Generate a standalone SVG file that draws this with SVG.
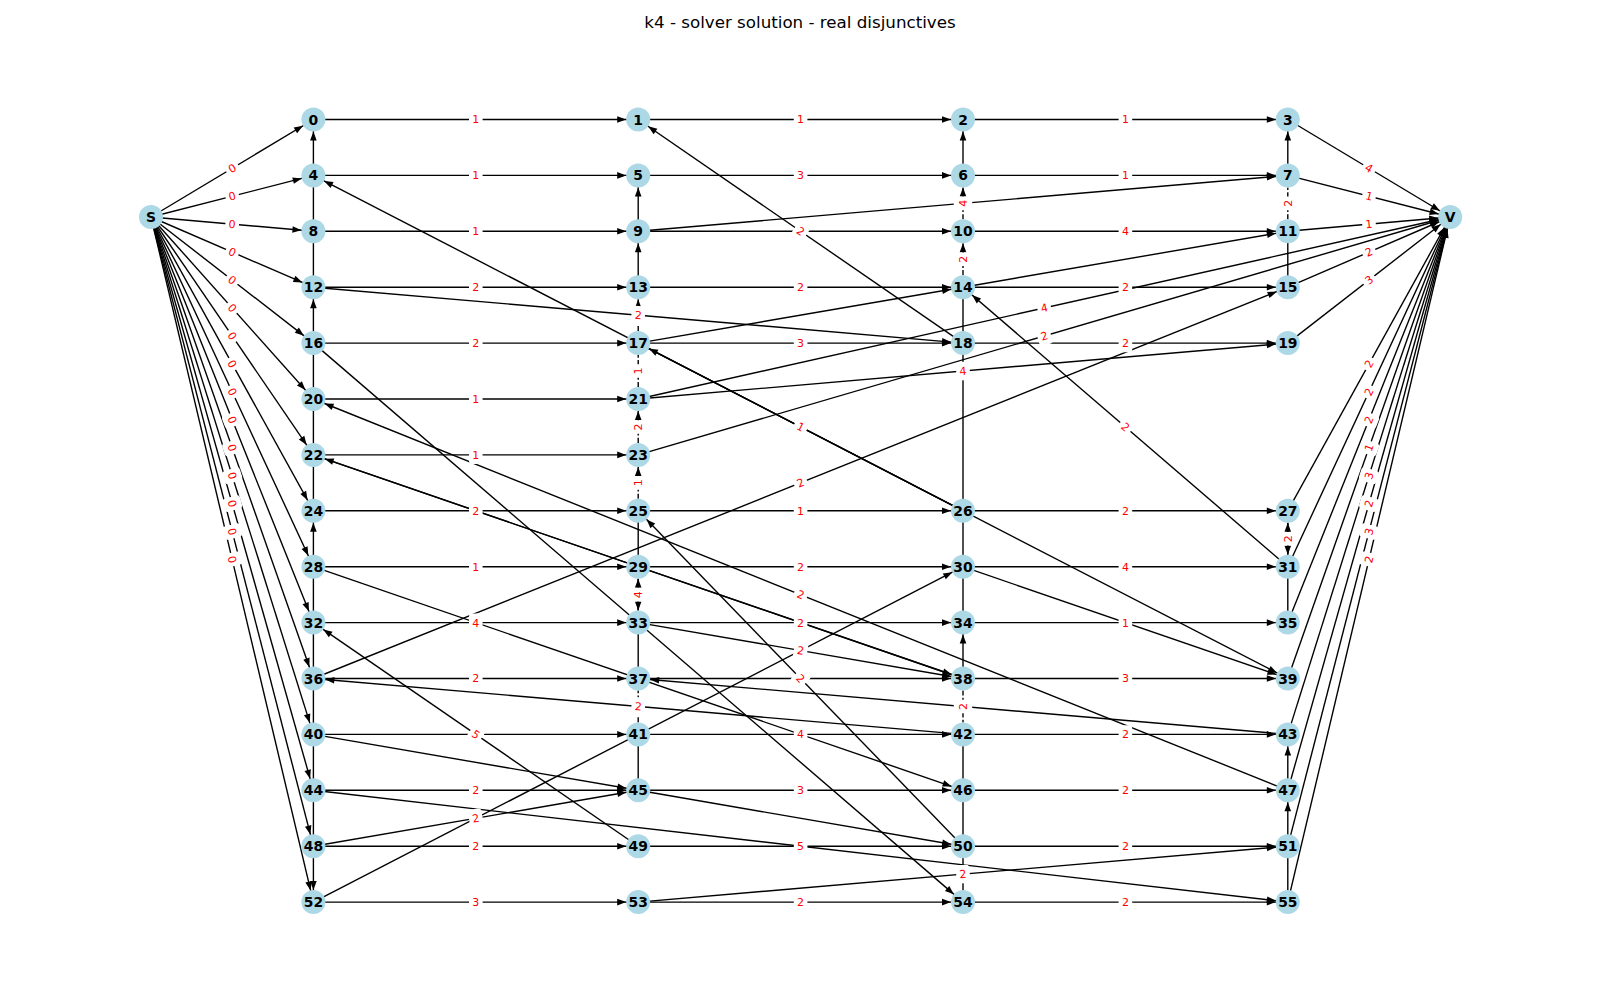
<svg xmlns="http://www.w3.org/2000/svg" xmlns:xlink="http://www.w3.org/1999/xlink" width="1600" height="1000" viewBox="0 0 1600 1000">
<style>
.e{stroke:#000;stroke-width:1.39;fill:none}
.ea{stroke:#000;stroke-width:1.39;fill:none;marker-end:url(#a)}
.d{stroke:#000;stroke-width:1.39;fill:none;stroke-dasharray:5.1 2.2}
.dt{stroke:#000;stroke-width:1.39;fill:none;stroke-dasharray:5.1 2.2;marker-end:url(#t)}
.l text{font-family:"DejaVu Sans","Liberation Sans",sans-serif;font-size:11px;fill:#ff0000;text-anchor:middle}
.nc{fill:#add8e6}
.nt{font-family:"DejaVu Sans","Liberation Sans",sans-serif;font-size:13.9px;font-weight:bold;fill:#000;text-anchor:middle}
.title{font-family:"DejaVu Sans","Liberation Sans",sans-serif;font-size:16.7px;fill:#000;text-anchor:middle}
</style>
<defs>
<marker id="a" viewBox="-12 -5 26 10" refX="12" refY="0" markerWidth="26" markerHeight="10" markerUnits="userSpaceOnUse" orient="auto" overflow="visible"><path d="M0,0 L-9,-3.3 L-9,3.3 Z" fill="#000"/></marker>
<marker id="t" viewBox="-12 -5 26 10" refX="0" refY="0" markerWidth="26" markerHeight="10" markerUnits="userSpaceOnUse" orient="auto" overflow="visible"><path d="M0,0 L-9,-3.3 L-9,3.3 Z" fill="#000"/></marker>
<rect id="b" x="-6.8" y="-9.2" width="13.6" height="18.4" rx="3.3" fill="#fff"/>
</defs>
<rect width="1600" height="1000" fill="#fff"/>
<text class="title" x="800" y="28">k4 - solver solution - real disjunctives</text>

<g id="edges">
<!-- S edges -->
<line class="ea" x1="151" y1="217" x2="313.4" y2="119.5"/>
<line class="ea" x1="151" y1="217" x2="313.4" y2="175.4"/>
<line class="ea" x1="151" y1="217" x2="313.4" y2="231.3"/>
<line class="ea" x1="151" y1="217" x2="313.4" y2="287.2"/>
<line class="ea" x1="151" y1="217" x2="313.4" y2="343.1"/>
<line class="ea" x1="151" y1="217" x2="313.4" y2="399"/>
<line class="ea" x1="151" y1="217" x2="313.4" y2="454.9"/>
<line class="ea" x1="151" y1="217" x2="313.4" y2="510.8"/>
<line class="ea" x1="151" y1="217" x2="313.4" y2="566.7"/>
<line class="ea" x1="151" y1="217" x2="313.4" y2="622.6"/>
<line class="ea" x1="151" y1="217" x2="313.4" y2="678.5"/>
<line class="ea" x1="151" y1="217" x2="313.4" y2="734.4"/>
<line class="ea" x1="151" y1="217" x2="313.4" y2="790.3"/>
<line class="ea" x1="151" y1="217" x2="313.4" y2="846.2"/>
<line class="ea" x1="151" y1="217" x2="313.4" y2="902.1"/>
<!-- V edges -->
<line class="ea" x1="1287.8" y1="119.5" x2="1450.2" y2="217"/>
<line class="ea" x1="1287.8" y1="175.4" x2="1450.2" y2="217"/>
<line class="ea" x1="1287.8" y1="231.3" x2="1450.2" y2="217"/>
<line class="ea" x1="1287.8" y1="287.2" x2="1450.2" y2="217"/>
<line class="ea" x1="1287.8" y1="343.1" x2="1450.2" y2="217"/>
<line class="ea" x1="638.2" y1="399" x2="1450.2" y2="217"/>
<line class="ea" x1="638.2" y1="454.9" x2="1450.2" y2="217"/>
<line class="ea" x1="1287.8" y1="510.8" x2="1450.2" y2="217"/>
<line class="ea" x1="1287.8" y1="566.7" x2="1450.2" y2="217"/>
<line class="ea" x1="1287.8" y1="622.6" x2="1450.2" y2="217"/>
<line class="ea" x1="1287.8" y1="678.5" x2="1450.2" y2="217"/>
<line class="ea" x1="1287.8" y1="734.4" x2="1450.2" y2="217"/>
<line class="ea" x1="1287.8" y1="790.3" x2="1450.2" y2="217"/>
<line class="ea" x1="1287.8" y1="846.2" x2="1450.2" y2="217"/>
<line class="ea" x1="1287.8" y1="902.1" x2="1450.2" y2="217"/>
<!-- horizontal -->
<line class="ea" x1="313.4" y1="119.5" x2="638.2" y2="119.5"/>
<line class="ea" x1="638.2" y1="119.5" x2="963" y2="119.5"/>
<line class="ea" x1="963" y1="119.5" x2="1287.8" y2="119.5"/>
<line class="ea" x1="313.4" y1="175.4" x2="638.2" y2="175.4"/>
<line class="ea" x1="638.2" y1="175.4" x2="963" y2="175.4"/>
<line class="ea" x1="963" y1="175.4" x2="1287.8" y2="175.4"/>
<line class="ea" x1="313.4" y1="231.3" x2="638.2" y2="231.3"/>
<line class="ea" x1="638.2" y1="231.3" x2="963" y2="231.3"/>
<line class="ea" x1="963" y1="231.3" x2="1287.8" y2="231.3"/>
<line class="ea" x1="313.4" y1="287.2" x2="638.2" y2="287.2"/>
<line class="ea" x1="638.2" y1="287.2" x2="963" y2="287.2"/>
<line class="ea" x1="963" y1="287.2" x2="1287.8" y2="287.2"/>
<line class="ea" x1="313.4" y1="343.1" x2="638.2" y2="343.1"/>
<line class="ea" x1="638.2" y1="343.1" x2="963" y2="343.1"/>
<line class="ea" x1="963" y1="343.1" x2="1287.8" y2="343.1"/>
<line class="ea" x1="313.4" y1="399" x2="638.2" y2="399"/>
<line class="ea" x1="313.4" y1="454.9" x2="638.2" y2="454.9"/>
<line class="ea" x1="313.4" y1="510.8" x2="638.2" y2="510.8"/>
<line class="ea" x1="638.2" y1="510.8" x2="963" y2="510.8"/>
<line class="ea" x1="963" y1="510.8" x2="1287.8" y2="510.8"/>
<line class="ea" x1="313.4" y1="566.7" x2="638.2" y2="566.7"/>
<line class="ea" x1="638.2" y1="566.7" x2="963" y2="566.7"/>
<line class="ea" x1="963" y1="566.7" x2="1287.8" y2="566.7"/>
<line class="ea" x1="313.4" y1="622.6" x2="638.2" y2="622.6"/>
<line class="ea" x1="638.2" y1="622.6" x2="963" y2="622.6"/>
<line class="ea" x1="963" y1="622.6" x2="1287.8" y2="622.6"/>
<line class="ea" x1="313.4" y1="678.5" x2="638.2" y2="678.5"/>
<line class="ea" x1="638.2" y1="678.5" x2="963" y2="678.5"/>
<line class="ea" x1="963" y1="678.5" x2="1287.8" y2="678.5"/>
<line class="ea" x1="313.4" y1="734.4" x2="638.2" y2="734.4"/>
<line class="ea" x1="638.2" y1="734.4" x2="963" y2="734.4"/>
<line class="ea" x1="963" y1="734.4" x2="1287.8" y2="734.4"/>
<line class="ea" x1="313.4" y1="790.3" x2="638.2" y2="790.3"/>
<line class="ea" x1="638.2" y1="790.3" x2="963" y2="790.3"/>
<line class="ea" x1="963" y1="790.3" x2="1287.8" y2="790.3"/>
<line class="ea" x1="313.4" y1="846.2" x2="638.2" y2="846.2"/>
<line class="ea" x1="638.2" y1="846.2" x2="963" y2="846.2"/>
<line class="ea" x1="963" y1="846.2" x2="1287.8" y2="846.2"/>
<line class="ea" x1="313.4" y1="902.1" x2="638.2" y2="902.1"/>
<line class="ea" x1="638.2" y1="902.1" x2="963" y2="902.1"/>
<line class="ea" x1="963" y1="902.1" x2="1287.8" y2="902.1"/>
<!-- diagonal -->
<line class="ea" x1="638.2" y1="231.3" x2="1287.8" y2="175.4"/>
<line class="ea" x1="313.4" y1="287.2" x2="963" y2="343.1"/>
<line class="ea" x1="638.2" y1="343.1" x2="963" y2="287.2"/>
<line class="ea" x1="963" y1="287.2" x2="1287.8" y2="231.3"/>
<line class="ea" x1="963" y1="343.1" x2="638.2" y2="119.5"/>
<line class="ea" x1="963" y1="510.8" x2="313.4" y2="175.4"/>
<line class="ea" x1="963" y1="510.8" x2="638.2" y2="343.1"/>
<line class="ea" x1="638.2" y1="343.1" x2="1287.8" y2="678.5"/>
<line class="ea" x1="638.2" y1="399" x2="1287.8" y2="343.1"/>
<line class="ea" x1="313.4" y1="678.5" x2="1287.8" y2="287.2"/>
<line class="ea" x1="1287.8" y1="566.7" x2="963" y2="287.2"/>
<line class="ea" x1="1287.8" y1="790.3" x2="313.4" y2="399"/>
<line class="ea" x1="963" y1="678.5" x2="313.4" y2="454.9"/>
<line class="ea" x1="313.4" y1="454.9" x2="963" y2="678.5"/>
<line class="ea" x1="313.4" y1="566.7" x2="963" y2="790.3"/>
<line class="ea" x1="313.4" y1="343.1" x2="963" y2="902.1"/>
<line class="ea" x1="638.2" y1="846.2" x2="313.4" y2="622.6"/>
<line class="ea" x1="963" y1="734.4" x2="313.4" y2="678.5"/>
<line class="ea" x1="313.4" y1="734.4" x2="638.2" y2="790.3"/>
<line class="ea" x1="638.2" y1="790.3" x2="963" y2="846.2"/>
<line class="ea" x1="313.4" y1="846.2" x2="638.2" y2="790.3"/>
<line class="ea" x1="313.4" y1="902.1" x2="963" y2="566.7"/>
<line class="ea" x1="313.4" y1="790.3" x2="1287.8" y2="902.1"/>
<line class="ea" x1="638.2" y1="622.6" x2="963" y2="678.5"/>
<line class="ea" x1="963" y1="846.2" x2="638.2" y2="510.8"/>
<line class="ea" x1="1287.8" y1="734.4" x2="638.2" y2="678.5"/>
<line class="ea" x1="963" y1="566.7" x2="1287.8" y2="678.5"/>
<line class="ea" x1="638.2" y1="902.1" x2="1287.8" y2="846.2"/>
<!-- vertical solid with arrow -->
<line class="ea" x1="313.4" y1="175.4" x2="313.4" y2="119.5"/>
<line class="ea" x1="313.4" y1="343.1" x2="313.4" y2="287.2"/>
<line class="ea" x1="313.4" y1="566.7" x2="313.4" y2="510.8"/>
<line class="ea" x1="313.4" y1="846.2" x2="313.4" y2="902.1"/>
<line class="ea" x1="638.2" y1="231.3" x2="638.2" y2="175.4"/>
<line class="ea" x1="638.2" y1="287.2" x2="638.2" y2="231.3"/>
<line class="ea" x1="963" y1="175.4" x2="963" y2="119.5"/>
<line class="ea" x1="963" y1="678.5" x2="963" y2="622.6"/>
<line class="ea" x1="1287.8" y1="175.4" x2="1287.8" y2="119.5"/>
<line class="ea" x1="1287.8" y1="790.3" x2="1287.8" y2="734.4"/>
<line class="ea" x1="1287.8" y1="846.2" x2="1287.8" y2="790.3"/>
<!-- vertical solid plain -->
<line class="e" x1="313.4" y1="175.4" x2="313.4" y2="287.2"/>
<line class="e" x1="313.4" y1="343.1" x2="313.4" y2="510.8"/>
<line class="e" x1="313.4" y1="566.7" x2="313.4" y2="846.2"/>
<line class="e" x1="638.2" y1="510.8" x2="638.2" y2="566.7"/>
<line class="e" x1="638.2" y1="622.6" x2="638.2" y2="678.5"/>
<line class="e" x1="638.2" y1="734.4" x2="638.2" y2="790.3"/>
<line class="e" x1="963" y1="287.2" x2="963" y2="622.6"/>
<line class="e" x1="963" y1="734.4" x2="963" y2="902.1"/>
<line class="e" x1="1287.8" y1="231.3" x2="1287.8" y2="287.2"/>
<line class="e" x1="1287.8" y1="566.7" x2="1287.8" y2="622.6"/>
<line class="e" x1="1287.8" y1="846.2" x2="1287.8" y2="902.1"/>
<!-- vertical dashed -->
<line class="dt" x1="638.2" y1="331.1" x2="638.2" y2="299.2"/>
<line class="d" x1="638.2" y1="387" x2="638.2" y2="355.1"/>
<line class="dt" x1="638.2" y1="442.9" x2="638.2" y2="411"/>
<line class="dt" x1="638.2" y1="498.8" x2="638.2" y2="466.9"/>
<line class="dt" x1="638.2" y1="610.6" x2="638.2" y2="578.7"/>
<line class="dt" x1="638.2" y1="578.7" x2="638.2" y2="610.6"/>
<line class="d" x1="638.2" y1="722.4" x2="638.2" y2="690.5"/>
<line class="dt" x1="963" y1="219.3" x2="963" y2="187.4"/>
<line class="dt" x1="963" y1="275.2" x2="963" y2="243.3"/>
<line class="d" x1="963" y1="690.5" x2="963" y2="722.4"/>
<line class="d" x1="1287.8" y1="219.3" x2="1287.8" y2="187.4"/>
<line class="dt" x1="1287.8" y1="554.7" x2="1287.8" y2="522.8"/>
<line class="dt" x1="1287.8" y1="522.8" x2="1287.8" y2="554.7"/>
</g>

<g id="edge-labels">
<g class="l" transform="translate(232.2,168.25) rotate(-31)"><use xlink:href="#b"/><text y="3.9">0</text></g>
<g class="l" transform="translate(232.2,196.2) rotate(-14.4)"><use xlink:href="#b"/><text y="3.9">0</text></g>
<g class="l" transform="translate(232.2,224.15) rotate(5)"><use xlink:href="#b"/><text y="3.9">0</text></g>
<g class="l" transform="translate(232.2,252.1) rotate(23.4)"><use xlink:href="#b"/><text y="3.9">0</text></g>
<g class="l" transform="translate(232.2,280.05) rotate(37.8)"><use xlink:href="#b"/><text y="3.9">0</text></g>
<g class="l" transform="translate(232.2,308) rotate(48.3)"><use xlink:href="#b"/><text y="3.9">0</text></g>
<g class="l" transform="translate(232.2,335.95) rotate(55.7)"><use xlink:href="#b"/><text y="3.9">0</text></g>
<g class="l" transform="translate(232.2,363.9) rotate(61.1)"><use xlink:href="#b"/><text y="3.9">0</text></g>
<g class="l" transform="translate(232.2,391.85) rotate(65.1)"><use xlink:href="#b"/><text y="3.9">0</text></g>
<g class="l" transform="translate(232.2,419.8) rotate(68.2)"><use xlink:href="#b"/><text y="3.9">0</text></g>
<g class="l" transform="translate(232.2,447.75) rotate(70.6)"><use xlink:href="#b"/><text y="3.9">0</text></g>
<g class="l" transform="translate(232.2,475.7) rotate(72.6)"><use xlink:href="#b"/><text y="3.9">0</text></g>
<g class="l" transform="translate(232.2,503.65) rotate(74.2)"><use xlink:href="#b"/><text y="3.9">0</text></g>
<g class="l" transform="translate(232.2,531.6) rotate(75.5)"><use xlink:href="#b"/><text y="3.9">0</text></g>
<g class="l" transform="translate(232.2,559.55) rotate(76.7)"><use xlink:href="#b"/><text y="3.9">0</text></g>

<g class="l" transform="translate(1369,168.25) rotate(31)"><use xlink:href="#b"/><text y="3.9">4</text></g>
<g class="l" transform="translate(1369,196.2) rotate(14.4)"><use xlink:href="#b"/><text y="3.9">1</text></g>
<g class="l" transform="translate(1369,224.15) rotate(-5)"><use xlink:href="#b"/><text y="3.9">1</text></g>
<g class="l" transform="translate(1369,252.1) rotate(-23.4)"><use xlink:href="#b"/><text y="3.9">2</text></g>
<g class="l" transform="translate(1369,280.05) rotate(-37.8)"><use xlink:href="#b"/><text y="3.9">3</text></g>
<g class="l" transform="translate(1369,363.9) rotate(-61.1)"><use xlink:href="#b"/><text y="3.9">2</text></g>
<g class="l" transform="translate(1369,391.85) rotate(-65.1)"><use xlink:href="#b"/><text y="3.9">2</text></g>
<g class="l" transform="translate(1369,419.8) rotate(-68.2)"><use xlink:href="#b"/><text y="3.9">2</text></g>
<g class="l" transform="translate(1369,447.75) rotate(-70.6)"><use xlink:href="#b"/><text y="3.9">1</text></g>
<g class="l" transform="translate(1369,475.7) rotate(-72.6)"><use xlink:href="#b"/><text y="3.9">3</text></g>
<g class="l" transform="translate(1369,503.65) rotate(-74.2)"><use xlink:href="#b"/><text y="3.9">2</text></g>
<g class="l" transform="translate(1369,531.6) rotate(-75.5)"><use xlink:href="#b"/><text y="3.9">3</text></g>
<g class="l" transform="translate(1369,559.55) rotate(-76.7)"><use xlink:href="#b"/><text y="3.9">2</text></g>
<g class="l" transform="translate(1044.2,308) rotate(-12.6)"><use xlink:href="#b"/><text y="3.9">4</text></g>
<g class="l" transform="translate(1044.2,335.95) rotate(-16.3)"><use xlink:href="#b"/><text y="3.9">2</text></g>

<!-- horizontal labels -->
<g class="l" transform="translate(475.8,119.5)"><use xlink:href="#b"/><text y="3.9">1</text></g>
<g class="l" transform="translate(800.6,119.5)"><use xlink:href="#b"/><text y="3.9">1</text></g>
<g class="l" transform="translate(1125.4,119.5)"><use xlink:href="#b"/><text y="3.9">1</text></g>
<g class="l" transform="translate(475.8,175.4)"><use xlink:href="#b"/><text y="3.9">1</text></g>
<g class="l" transform="translate(800.6,175.4)"><use xlink:href="#b"/><text y="3.9">3</text></g>
<g class="l" transform="translate(1125.4,175.4)"><use xlink:href="#b"/><text y="3.9">1</text></g>
<g class="l" transform="translate(475.8,231.3)"><use xlink:href="#b"/><text y="3.9">1</text></g>
<g class="l" transform="translate(1125.4,231.3)"><use xlink:href="#b"/><text y="3.9">4</text></g>
<g class="l" transform="translate(475.8,287.2)"><use xlink:href="#b"/><text y="3.9">2</text></g>
<g class="l" transform="translate(800.6,287.2)"><use xlink:href="#b"/><text y="3.9">2</text></g>
<g class="l" transform="translate(1125.4,287.2)"><use xlink:href="#b"/><text y="3.9">2</text></g>
<g class="l" transform="translate(475.8,343.1)"><use xlink:href="#b"/><text y="3.9">2</text></g>
<g class="l" transform="translate(800.6,343.1)"><use xlink:href="#b"/><text y="3.9">3</text></g>
<g class="l" transform="translate(1125.4,343.1)"><use xlink:href="#b"/><text y="3.9">2</text></g>
<g class="l" transform="translate(475.8,399)"><use xlink:href="#b"/><text y="3.9">1</text></g>
<g class="l" transform="translate(475.8,454.9)"><use xlink:href="#b"/><text y="3.9">1</text></g>
<g class="l" transform="translate(475.8,510.8)"><use xlink:href="#b"/><text y="3.9">2</text></g>
<g class="l" transform="translate(800.6,510.8)"><use xlink:href="#b"/><text y="3.9">1</text></g>
<g class="l" transform="translate(1125.4,510.8)"><use xlink:href="#b"/><text y="3.9">2</text></g>
<g class="l" transform="translate(475.8,566.7)"><use xlink:href="#b"/><text y="3.9">1</text></g>
<g class="l" transform="translate(800.6,566.7)"><use xlink:href="#b"/><text y="3.9">2</text></g>
<g class="l" transform="translate(1125.4,566.7)"><use xlink:href="#b"/><text y="3.9">4</text></g>
<g class="l" transform="translate(475.8,622.6)"><use xlink:href="#b"/><text y="3.9">4</text></g>
<g class="l" transform="translate(800.6,622.6)"><use xlink:href="#b"/><text y="3.9">2</text></g>
<g class="l" transform="translate(1125.4,622.6)"><use xlink:href="#b"/><text y="3.9">1</text></g>
<g class="l" transform="translate(475.8,678.5)"><use xlink:href="#b"/><text y="3.9">2</text></g>
<g class="l" transform="translate(1125.4,678.5)"><use xlink:href="#b"/><text y="3.9">3</text></g>
<g class="l" transform="translate(800.6,734.4)"><use xlink:href="#b"/><text y="3.9">4</text></g>
<g class="l" transform="translate(1125.4,734.4)"><use xlink:href="#b"/><text y="3.9">2</text></g>
<g class="l" transform="translate(475.8,790.3)"><use xlink:href="#b"/><text y="3.9">2</text></g>
<g class="l" transform="translate(800.6,790.3)"><use xlink:href="#b"/><text y="3.9">3</text></g>
<g class="l" transform="translate(1125.4,790.3)"><use xlink:href="#b"/><text y="3.9">2</text></g>
<g class="l" transform="translate(475.8,846.2)"><use xlink:href="#b"/><text y="3.9">2</text></g>
<g class="l" transform="translate(800.6,846.2)"><use xlink:href="#b"/><text y="3.9">5</text></g>
<g class="l" transform="translate(1125.4,846.2)"><use xlink:href="#b"/><text y="3.9">2</text></g>
<g class="l" transform="translate(475.8,902.1)"><use xlink:href="#b"/><text y="3.9">3</text></g>
<g class="l" transform="translate(800.6,902.1)"><use xlink:href="#b"/><text y="3.9">2</text></g>
<g class="l" transform="translate(1125.4,902.1)"><use xlink:href="#b"/><text y="3.9">2</text></g>

<!-- diagonal labels -->
<g class="l" transform="translate(800.6,231.3) rotate(34.5)"><use xlink:href="#b"/><text y="3.9">2</text></g>
<g class="l" transform="translate(638.2,315.15) rotate(4.9)"><use xlink:href="#b"/><text y="3.9">2</text></g>
<g class="l" transform="translate(800.6,426.95) rotate(27.3)"><use xlink:href="#b"/><text y="3.9">1</text></g>
<g class="l" transform="translate(963,371.05) rotate(-4.9)"><use xlink:href="#b"/><text y="3.9">4</text></g>
<g class="l" transform="translate(800.6,482.85) rotate(-21.9)"><use xlink:href="#b"/><text y="3.9">2</text></g>
<g class="l" transform="translate(1125.4,426.95) rotate(40.7)"><use xlink:href="#b"/><text y="3.9">2</text></g>
<g class="l" transform="translate(800.6,594.65) rotate(21.9)"><use xlink:href="#b"/><text y="3.9">2</text></g>
<g class="l" transform="translate(475.8,734.4) rotate(34.5)"><use xlink:href="#b"/><text y="3.9">5</text></g>
<g class="l" transform="translate(638.2,706.45) rotate(4.9)"><use xlink:href="#b"/><text y="3.9">2</text></g>
<g class="l" transform="translate(475.8,818.25) rotate(-9.8)"><use xlink:href="#b"/><text y="3.9">2</text></g>
<g class="l" transform="translate(800.6,650.55) rotate(9.8)"><use xlink:href="#b"/><text y="3.9">2</text></g>
<g class="l" transform="translate(800.6,678.5) rotate(45.9)"><use xlink:href="#b"/><text y="3.9">2</text></g>
<g class="l" transform="translate(963,874.15) rotate(-4.9)"><use xlink:href="#b"/><text y="3.9">2</text></g>

<!-- vertical labels -->
<g class="l" transform="translate(638.2,371.05) rotate(-90)"><use xlink:href="#b"/><text y="3.9">1</text></g>
<g class="l" transform="translate(638.2,426.95) rotate(-90)"><use xlink:href="#b"/><text y="3.9">2</text></g>
<g class="l" transform="translate(638.2,482.85) rotate(-90)"><use xlink:href="#b"/><text y="3.9">1</text></g>
<g class="l" transform="translate(638.2,594.65) rotate(-90)"><use xlink:href="#b"/><text y="3.9">4</text></g>
<g class="l" transform="translate(963,203.35) rotate(-90)"><use xlink:href="#b"/><text y="3.9">4</text></g>
<g class="l" transform="translate(963,259.25) rotate(-90)"><use xlink:href="#b"/><text y="3.9">2</text></g>
<g class="l" transform="translate(963,706.45) rotate(-90)"><use xlink:href="#b"/><text y="3.9">2</text></g>
<g class="l" transform="translate(1287.8,203.35) rotate(-90)"><use xlink:href="#b"/><text y="3.9">2</text></g>
<g class="l" transform="translate(1287.8,538.75) rotate(-90)"><use xlink:href="#b"/><text y="3.9">2</text></g>
</g>

<g id="nodes">
<g id="node-S"><circle class="nc" cx="151" cy="217" r="12"/><text class="nt" x="151" y="222">S</text></g>
<g id="node-V"><circle class="nc" cx="1450.2" cy="217" r="12"/><text class="nt" x="1450.2" y="222">V</text></g>
<g id="node-0"><circle class="nc" cx="313.4" cy="119.5" r="12"/><text class="nt" x="313.4" y="124.5">0</text></g>
<g id="node-4"><circle class="nc" cx="313.4" cy="175.4" r="12"/><text class="nt" x="313.4" y="180.4">4</text></g>
<g id="node-8"><circle class="nc" cx="313.4" cy="231.3" r="12"/><text class="nt" x="313.4" y="236.3">8</text></g>
<g id="node-12"><circle class="nc" cx="313.4" cy="287.2" r="12"/><text class="nt" x="313.4" y="292.2">12</text></g>
<g id="node-16"><circle class="nc" cx="313.4" cy="343.1" r="12"/><text class="nt" x="313.4" y="348.1">16</text></g>
<g id="node-20"><circle class="nc" cx="313.4" cy="399" r="12"/><text class="nt" x="313.4" y="404">20</text></g>
<g id="node-22"><circle class="nc" cx="313.4" cy="454.9" r="12"/><text class="nt" x="313.4" y="459.9">22</text></g>
<g id="node-24"><circle class="nc" cx="313.4" cy="510.8" r="12"/><text class="nt" x="313.4" y="515.8">24</text></g>
<g id="node-28"><circle class="nc" cx="313.4" cy="566.7" r="12"/><text class="nt" x="313.4" y="571.7">28</text></g>
<g id="node-32"><circle class="nc" cx="313.4" cy="622.6" r="12"/><text class="nt" x="313.4" y="627.6">32</text></g>
<g id="node-36"><circle class="nc" cx="313.4" cy="678.5" r="12"/><text class="nt" x="313.4" y="683.5">36</text></g>
<g id="node-40"><circle class="nc" cx="313.4" cy="734.4" r="12"/><text class="nt" x="313.4" y="739.4">40</text></g>
<g id="node-44"><circle class="nc" cx="313.4" cy="790.3" r="12"/><text class="nt" x="313.4" y="795.3">44</text></g>
<g id="node-48"><circle class="nc" cx="313.4" cy="846.2" r="12"/><text class="nt" x="313.4" y="851.2">48</text></g>
<g id="node-52"><circle class="nc" cx="313.4" cy="902.1" r="12"/><text class="nt" x="313.4" y="907.1">52</text></g>
<g id="node-1"><circle class="nc" cx="638.2" cy="119.5" r="12"/><text class="nt" x="638.2" y="124.5">1</text></g>
<g id="node-5"><circle class="nc" cx="638.2" cy="175.4" r="12"/><text class="nt" x="638.2" y="180.4">5</text></g>
<g id="node-9"><circle class="nc" cx="638.2" cy="231.3" r="12"/><text class="nt" x="638.2" y="236.3">9</text></g>
<g id="node-13"><circle class="nc" cx="638.2" cy="287.2" r="12"/><text class="nt" x="638.2" y="292.2">13</text></g>
<g id="node-17"><circle class="nc" cx="638.2" cy="343.1" r="12"/><text class="nt" x="638.2" y="348.1">17</text></g>
<g id="node-21"><circle class="nc" cx="638.2" cy="399" r="12"/><text class="nt" x="638.2" y="404">21</text></g>
<g id="node-23"><circle class="nc" cx="638.2" cy="454.9" r="12"/><text class="nt" x="638.2" y="459.9">23</text></g>
<g id="node-25"><circle class="nc" cx="638.2" cy="510.8" r="12"/><text class="nt" x="638.2" y="515.8">25</text></g>
<g id="node-29"><circle class="nc" cx="638.2" cy="566.7" r="12"/><text class="nt" x="638.2" y="571.7">29</text></g>
<g id="node-33"><circle class="nc" cx="638.2" cy="622.6" r="12"/><text class="nt" x="638.2" y="627.6">33</text></g>
<g id="node-37"><circle class="nc" cx="638.2" cy="678.5" r="12"/><text class="nt" x="638.2" y="683.5">37</text></g>
<g id="node-41"><circle class="nc" cx="638.2" cy="734.4" r="12"/><text class="nt" x="638.2" y="739.4">41</text></g>
<g id="node-45"><circle class="nc" cx="638.2" cy="790.3" r="12"/><text class="nt" x="638.2" y="795.3">45</text></g>
<g id="node-49"><circle class="nc" cx="638.2" cy="846.2" r="12"/><text class="nt" x="638.2" y="851.2">49</text></g>
<g id="node-53"><circle class="nc" cx="638.2" cy="902.1" r="12"/><text class="nt" x="638.2" y="907.1">53</text></g>
<g id="node-2"><circle class="nc" cx="963" cy="119.5" r="12"/><text class="nt" x="963" y="124.5">2</text></g>
<g id="node-6"><circle class="nc" cx="963" cy="175.4" r="12"/><text class="nt" x="963" y="180.4">6</text></g>
<g id="node-10"><circle class="nc" cx="963" cy="231.3" r="12"/><text class="nt" x="963" y="236.3">10</text></g>
<g id="node-14"><circle class="nc" cx="963" cy="287.2" r="12"/><text class="nt" x="963" y="292.2">14</text></g>
<g id="node-18"><circle class="nc" cx="963" cy="343.1" r="12"/><text class="nt" x="963" y="348.1">18</text></g>
<g id="node-26"><circle class="nc" cx="963" cy="510.8" r="12"/><text class="nt" x="963" y="515.8">26</text></g>
<g id="node-30"><circle class="nc" cx="963" cy="566.7" r="12"/><text class="nt" x="963" y="571.7">30</text></g>
<g id="node-34"><circle class="nc" cx="963" cy="622.6" r="12"/><text class="nt" x="963" y="627.6">34</text></g>
<g id="node-38"><circle class="nc" cx="963" cy="678.5" r="12"/><text class="nt" x="963" y="683.5">38</text></g>
<g id="node-42"><circle class="nc" cx="963" cy="734.4" r="12"/><text class="nt" x="963" y="739.4">42</text></g>
<g id="node-46"><circle class="nc" cx="963" cy="790.3" r="12"/><text class="nt" x="963" y="795.3">46</text></g>
<g id="node-50"><circle class="nc" cx="963" cy="846.2" r="12"/><text class="nt" x="963" y="851.2">50</text></g>
<g id="node-54"><circle class="nc" cx="963" cy="902.1" r="12"/><text class="nt" x="963" y="907.1">54</text></g>
<g id="node-3"><circle class="nc" cx="1287.8" cy="119.5" r="12"/><text class="nt" x="1287.8" y="124.5">3</text></g>
<g id="node-7"><circle class="nc" cx="1287.8" cy="175.4" r="12"/><text class="nt" x="1287.8" y="180.4">7</text></g>
<g id="node-11"><circle class="nc" cx="1287.8" cy="231.3" r="12"/><text class="nt" x="1287.8" y="236.3">11</text></g>
<g id="node-15"><circle class="nc" cx="1287.8" cy="287.2" r="12"/><text class="nt" x="1287.8" y="292.2">15</text></g>
<g id="node-19"><circle class="nc" cx="1287.8" cy="343.1" r="12"/><text class="nt" x="1287.8" y="348.1">19</text></g>
<g id="node-27"><circle class="nc" cx="1287.8" cy="510.8" r="12"/><text class="nt" x="1287.8" y="515.8">27</text></g>
<g id="node-31"><circle class="nc" cx="1287.8" cy="566.7" r="12"/><text class="nt" x="1287.8" y="571.7">31</text></g>
<g id="node-35"><circle class="nc" cx="1287.8" cy="622.6" r="12"/><text class="nt" x="1287.8" y="627.6">35</text></g>
<g id="node-39"><circle class="nc" cx="1287.8" cy="678.5" r="12"/><text class="nt" x="1287.8" y="683.5">39</text></g>
<g id="node-43"><circle class="nc" cx="1287.8" cy="734.4" r="12"/><text class="nt" x="1287.8" y="739.4">43</text></g>
<g id="node-47"><circle class="nc" cx="1287.8" cy="790.3" r="12"/><text class="nt" x="1287.8" y="795.3">47</text></g>
<g id="node-51"><circle class="nc" cx="1287.8" cy="846.2" r="12"/><text class="nt" x="1287.8" y="851.2">51</text></g>
<g id="node-55"><circle class="nc" cx="1287.8" cy="902.1" r="12"/><text class="nt" x="1287.8" y="907.1">55</text></g>
</g>
</svg>
